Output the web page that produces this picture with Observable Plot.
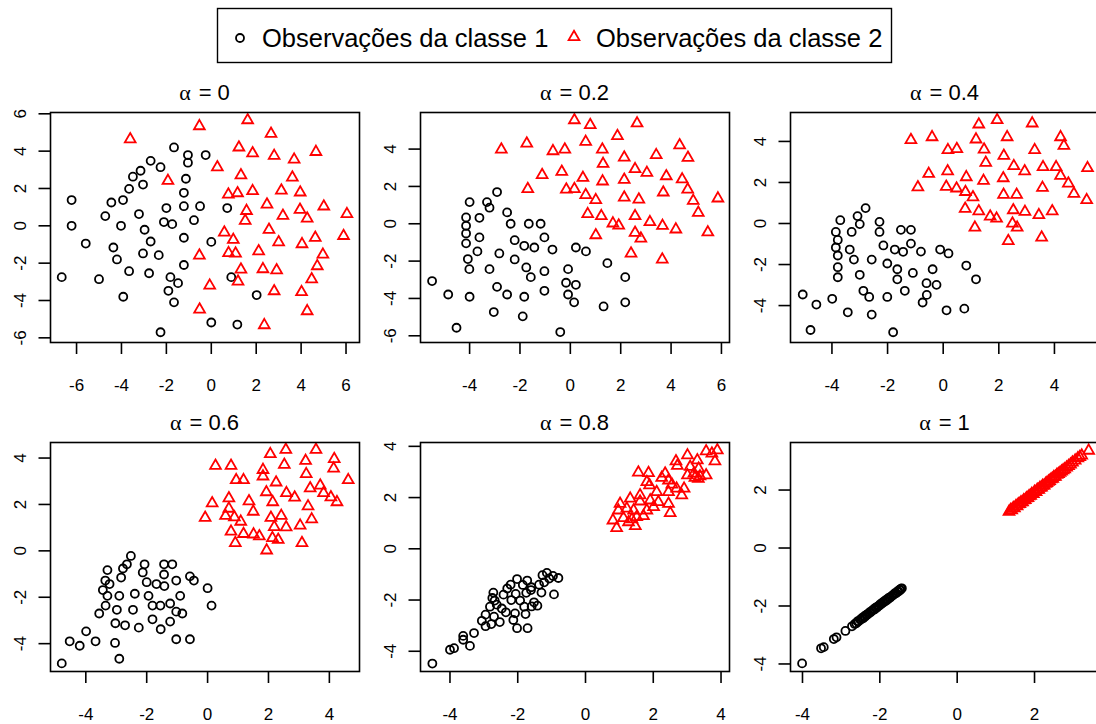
<!DOCTYPE html>
<html>
<head>
<meta charset="utf-8">
<script src="https://cdn.jsdelivr.net/npm/d3@7"></script>
<script src="https://cdn.jsdelivr.net/npm/@observablehq/plot@0.6"></script>
<style>
  html, body { margin: 0; padding: 0; background: #fff; overflow: hidden; width: 1096px; height: 724px; }
  #chart { position: relative; width: 1096px; height: 724px; overflow: hidden; background: #fff; }
  #chart svg { position: absolute; overflow: visible; }
</style>
</head>
<body>
<div id="chart"></div>
<script>
// Panel titles (mixing weight) and legend entries
const alphas = ["0", "0.2", "0.4", "0.6", "0.8", "1"];
const legendLabels = ["Observações da classe 1", "Observações da classe 2"];
const classColors = ["black", "red"];
const classSymbols = ["circle", "triangle"];

// alpha = 0
const a0_c1_x = [-6.66,-6.22,-6.22,-5.59,-5.00,-4.72,-4.45,-4.36,-4.20,-3.93,-4.02,-3.92,-3.66,-3.66,-3.49,-3.15,-3.04,-3.22,-3.04,-2.97,-2.77,-2.70,-2.70,-2.34,-2.26,-2.26,-2.11,-2.00,-1.91,-1.82,-1.74,-1.66,-1.66,-1.48,-1.22,-1.22,-1.22,-1.22,-1.13,-1.04,-1.04,-0.77,-0.50,-0.25,0.00,0.00,0.71,0.89,1.16,2.02];
const a0_c1_y = [-2.75,1.38,0.00,-0.95,-2.86,0.52,1.25,-1.16,-1.80,1.38,0.00,-3.80,-2.43,1.98,2.63,2.95,2.21,0.63,-1.48,-0.21,-2.54,-0.84,3.48,-1.57,3.14,-5.70,0.20,0.95,-3.48,-2.75,0.09,4.20,-4.10,-3.07,1.77,1.05,-0.64,-2.10,2.52,3.38,3.79,0.30,1.05,3.79,-0.86,-5.18,0.95,-2.75,-5.29,-3.71];
const a0_c2_x = [-3.61,-0.53,1.62,2.66,1.23,1.84,2.80,3.69,4.66,0.27,1.32,3.61,-1.93,0.76,1.17,1.84,3.12,3.96,2.48,5.01,1.57,3.95,6.04,1.51,3.19,4.27,2.57,0.58,0.98,3.00,4.04,4.63,5.89,-0.53,0.77,1.08,2.11,4.97,1.32,2.30,2.91,4.72,-0.07,1.19,4.47,2.80,4.02,-0.52,4.27,2.36];
const a0_c2_y = [4.64,5.34,5.66,4.93,4.20,3.89,3.75,3.55,3.96,3.14,2.71,2.59,2.41,1.68,1.75,1.86,1.89,1.79,1.14,1.04,0.80,0.86,0.63,0.27,0.54,0.39,-0.21,-0.36,-0.75,-0.88,-0.98,-0.64,-0.54,-1.59,-1.46,-1.48,-1.36,-1.54,-2.34,-2.32,-2.38,-2.16,-3.20,-2.98,-2.86,-3.50,-3.55,-4.48,-4.57,-5.32];

// alpha = 0.2
const a2_c1_x = [-5.49,-4.85,-4.52,-4.14,-4.14,-4.14,-4.14,-4.07,-4.01,-4.00,-4.00,-3.69,-3.61,-3.61,-3.31,-3.21,-3.21,-2.91,-2.91,-3.04,-2.82,-2.51,-2.51,-2.37,-2.21,-2.21,-1.83,-1.83,-1.89,-1.75,-1.65,-1.57,-1.43,-1.18,-1.03,-1.03,-1.03,-0.71,-0.40,-0.17,-0.09,-0.09,0.15,0.22,0.22,0.62,1.32,1.47,2.18,2.18];
const a2_c1_y = [-3.07,-3.79,-5.57,0.34,-0.11,-0.52,-1.05,-1.89,-2.43,-3.91,1.16,-1.48,0.32,-0.73,1.16,0.86,-2.43,1.70,-3.38,-4.73,-1.59,0.61,-3.79,0.00,-0.88,-1.91,-1.18,-3.91,-4.96,-2.34,0.00,-2.86,-1.27,0.00,-0.73,-2.54,-3.59,-1.38,-5.80,-3.16,-2.43,-3.79,-4.21,-3.27,-1.27,-1.48,-4.43,-2.11,-2.86,-4.21];
const a2_c2_x = [0.16,0.79,2.65,-2.74,-1.73,-0.69,-0.22,0.61,1.87,1.27,2.14,3.41,4.34,4.67,1.30,-1.12,-0.34,0.50,1.28,2.14,2.57,3.04,3.81,4.44,-1.69,-0.16,0.16,0.61,1.01,2.14,2.72,3.69,4.66,4.88,5.86,5.08,0.69,1.23,1.69,1.92,2.57,3.16,3.66,4.19,5.46,2.57,2.80,1.01,2.41,3.65];
const a2_c2_y = [5.55,5.29,5.38,3.98,4.30,3.89,3.98,4.39,4.70,3.98,3.55,3.68,4.21,3.54,3.21,2.61,2.79,2.46,2.27,2.36,2.93,2.73,2.55,2.38,1.86,1.84,1.86,1.54,1.27,1.41,1.30,1.68,1.84,1.23,1.36,0.59,0.52,0.41,0.02,-0.09,0.41,0.09,-0.11,-0.30,-0.46,-0.48,-0.79,-0.61,-1.59,-1.91];

// alpha = 0.4
const a4_c1_x = [-5.05,-4.77,-4.56,-3.99,-3.79,-3.79,-3.79,-3.86,-3.79,-3.86,-3.70,-3.43,-3.36,-3.29,-3.21,-3.08,-3.00,-2.79,-3.00,-2.87,-2.66,-2.57,-2.57,-2.29,-2.29,-2.15,-2.01,-2.01,-1.80,-1.74,-1.65,-1.65,-1.52,-1.44,-1.38,-1.16,-1.16,-1.09,-0.80,-0.74,-0.60,-0.59,-0.38,-0.24,-0.11,0.12,0.19,0.76,0.83,1.18];
const a4_c1_y = [-3.46,-5.19,-3.95,-3.67,-2.62,-2.13,-1.56,-1.17,-0.80,-0.41,0.16,-4.33,-1.27,-0.41,-1.76,0.36,-0.03,0.75,-2.50,-3.28,-3.58,-4.44,-1.76,0.08,-0.41,-1.07,-1.95,-3.58,-5.30,-1.27,-2.23,-2.72,-0.31,-1.38,-3.28,-0.31,-0.98,-2.41,-1.37,-3.85,-2.91,-3.48,-2.23,-2.99,-1.27,-4.23,-1.46,-4.15,-2.05,-2.72];
const a4_c2_x = [1.94,3.20,1.28,-1.16,-0.40,1.18,2.30,4.22,4.34,0.17,0.49,1.47,3.29,2.18,1.53,2.54,2.93,3.59,4.06,5.19,4.22,0.16,-0.52,0.83,1.45,2.16,4.50,-0.91,0.11,0.48,0.80,1.07,3.57,2.17,2.64,4.70,5.16,0.79,1.28,1.69,1.92,2.52,2.94,3.44,3.92,2.49,2.66,1.14,2.34,3.54];
const a4_c2_y = [5.04,4.88,4.83,4.07,4.21,4.10,4.21,4.21,3.79,3.58,3.63,3.61,3.58,3.30,2.96,2.80,2.55,2.75,2.75,2.70,2.33,2.55,2.42,2.26,2.08,2.21,1.95,1.77,1.79,1.71,1.54,1.28,1.74,1.40,1.40,1.45,1.14,0.72,0.60,0.34,0.24,0.65,0.57,0.41,0.60,0.00,-0.20,-0.20,-0.85,-0.68];

// alpha = 0.6
const a6_c1_x = [-4.79,-4.53,-4.20,-3.99,-3.68,-3.56,-3.44,-3.36,-3.29,-3.29,-3.35,-3.22,-3.04,-3.03,-2.98,-2.90,-2.90,-2.84,-2.78,-2.65,-2.71,-2.52,-2.45,-2.39,-2.26,-2.13,-2.07,-2.00,-1.94,-1.81,-1.81,-1.68,-1.55,-1.54,-1.43,-1.43,-1.42,-1.23,-1.23,-1.16,-1.03,-1.03,-1.03,-0.90,-0.83,-0.58,-0.45,-0.58,0.00,0.13];
const a6_c1_y = [-4.85,-3.90,-4.09,-3.47,-3.90,-2.70,-1.69,-1.28,-0.83,-1.94,-2.36,-1.43,-3.97,-3.12,-2.54,-1.94,-4.65,-1.15,-0.76,-0.58,-3.21,-0.22,-2.54,-1.85,-3.31,-0.93,-0.58,-1.35,-1.94,-2.36,-2.95,-1.43,-2.36,-3.38,-0.58,-1.02,-1.52,-2.27,-3.05,-0.58,-1.28,-2.62,-3.81,-1.94,-2.70,-1.10,-1.28,-3.81,-1.61,-2.36];
const a6_c2_x = [2.57,3.56,2.06,3.22,4.16,0.26,0.77,1.82,2.52,4.14,0.94,1.18,1.82,3.24,2.25,4.62,3.70,3.37,3.81,1.93,2.59,2.86,4.05,0.15,0.70,1.36,2.14,4.25,3.30,0.70,1.50,-0.08,0.59,0.88,1.09,2.08,2.42,3.42,0.77,1.18,1.51,1.70,2.19,2.58,3.04,0.91,2.13,2.32,3.10,1.94];
const a6_c2_y = [4.36,4.36,4.17,3.88,3.96,3.67,3.67,3.49,3.71,3.55,3.05,3.05,3.21,3.31,2.95,3.05,2.82,2.70,2.49,2.53,2.49,2.30,2.31,2.05,2.27,2.14,2.10,2.10,1.92,1.82,1.69,1.43,1.51,1.45,1.26,1.43,1.51,1.36,0.83,0.73,0.71,0.63,1.03,1.02,1.09,0.34,0.55,0.48,0.34,0.02];

// alpha = 0.8
const a8_c1_x = [-4.52,-4.00,-3.88,-3.61,-3.61,-3.41,-3.29,-3.06,-2.95,-2.95,-2.78,-2.70,-2.53,-2.82,-2.75,-2.72,-2.68,-2.62,-2.47,-2.35,-2.42,-2.31,-2.21,-2.19,-2.06,-2.02,-2.08,-2.13,-2.02,-1.93,-1.85,-1.81,-1.77,-1.72,-1.71,-1.75,-1.61,-1.60,-1.59,-1.52,-1.42,-1.37,-1.30,-1.27,-1.14,-1.07,-0.96,-0.93,-0.80,-1.22];
const a8_c1_y = [-4.48,-3.94,-3.88,-3.40,-3.55,-3.79,-3.29,-2.81,-2.57,-3.02,-2.94,-2.65,-2.86,-2.26,-1.92,-1.71,-2.02,-2.18,-2.33,-2.48,-1.79,-1.55,-1.40,-2.00,-1.76,-1.18,-2.52,-2.78,-3.10,-2.02,-1.41,-2.26,-2.55,-1.24,-3.10,-1.72,-1.61,-1.50,-2.25,-2.09,-2.22,-1.40,-1.71,-1.03,-0.94,-1.16,-1.06,-1.78,-1.14,-1.31];
const a8_c2_x = [3.56,3.89,3.73,3.82,3.01,3.30,2.67,2.71,3.09,3.34,3.20,3.01,3.38,3.56,3.33,3.23,1.56,1.86,2.35,2.25,2.45,1.81,1.89,2.55,2.69,2.91,2.84,2.45,2.10,1.61,1.32,1.02,1.61,1.91,2.15,2.45,2.01,1.81,2.50,0.97,1.22,1.42,0.81,1.12,1.37,1.51,1.71,1.27,1.47,0.92];
const a8_c2_y = [3.81,3.85,3.72,3.42,3.65,3.46,3.42,3.24,3.20,3.13,2.94,2.87,2.83,2.87,2.74,2.77,2.98,2.96,2.94,2.77,2.67,2.61,2.48,2.51,2.35,2.35,2.09,2.22,2.22,2.09,1.96,1.76,1.85,1.89,1.83,1.76,1.63,1.50,1.40,1.50,1.57,1.50,1.11,1.20,1.15,1.24,1.28,1.04,0.89,0.81];

// alpha = 1
const a10_c1_x = [-4.01,-3.52,-3.45,-3.19,-3.12,-2.89,-2.72,-2.65,-2.61,-2.58,-2.55,-2.51,-2.49,-2.46,-2.43,-2.40,-2.38,-2.35,-2.33,-2.30,-2.27,-2.25,-2.22,-2.19,-2.16,-2.14,-2.11,-2.08,-2.05,-2.02,-1.99,-1.96,-1.93,-1.90,-1.87,-1.84,-1.81,-1.79,-1.76,-1.73,-1.70,-1.66,-1.62,-1.58,-1.55,-1.52,-1.49,-1.47,-1.45,-1.43];
const a10_c1_y = [-3.98,-3.46,-3.42,-3.14,-3.08,-2.86,-2.70,-2.62,-2.60,-2.53,-2.53,-2.47,-2.47,-2.41,-2.42,-2.35,-2.36,-2.31,-2.30,-2.27,-2.22,-2.23,-2.18,-2.16,-2.11,-2.12,-2.06,-2.06,-2.01,-1.99,-1.94,-1.93,-1.88,-1.87,-1.82,-1.82,-1.76,-1.77,-1.71,-1.71,-1.66,-1.63,-1.57,-1.56,-1.50,-1.50,-1.44,-1.45,-1.40,-1.39];
const a10_c2_x = [1.34,1.38,1.41,1.45,1.48,1.52,1.55,1.58,1.62,1.65,1.69,1.72,1.76,1.79,1.83,1.86,1.90,1.93,1.97,2.00,2.04,2.07,2.11,2.14,2.18,2.21,2.25,2.29,2.32,2.36,2.39,2.43,2.47,2.50,2.54,2.58,2.62,2.66,2.70,2.74,2.78,2.83,2.88,2.93,2.98,3.05,3.12,3.17,3.22,3.40];
const a10_c2_y = [1.25,1.31,1.30,1.38,1.37,1.45,1.44,1.51,1.52,1.58,1.58,1.65,1.66,1.72,1.73,1.79,1.80,1.87,1.86,1.94,1.93,2.01,2.01,2.08,2.09,2.15,2.16,2.22,2.24,2.29,2.31,2.37,2.39,2.45,2.46,2.53,2.55,2.60,2.64,2.68,2.72,2.78,2.83,2.88,2.95,3.02,3.10,3.14,3.19,3.36];

// Axis ranges and tick values per panel
const xDomains = [[-7.16, 6.60], [-5.95, 6.32], [-5.49, 5.62], [-5.16, 4.99], [-4.87, 4.25], [-4.31, 3.68]];
const yDomains = [[-6.25, 6.07], [-6.36, 5.96], [-5.80, 5.41], [-5.20, 4.67], [-4.79, 4.15], [-4.26, 3.64]];
const xTicks = [[-6,-4,-2,0,2,4,6], [-4,-2,0,2,4,6], [-4,-2,0,2,4], [-4,-2,0,2,4], [-4,-2,0,2,4], [-4,-2,0,2]];
const yTicks = [[-6,-4,-2,0,2,4,6], [-6,-4,-2,0,2,4], [-4,-2,0,2,4], [-4,-2,0,2,4], [-4,-2,0,2,4], [-4,-2,0,2]];

const series = [
  [a0_c1_x, a0_c1_y, a0_c2_x, a0_c2_y],
  [a2_c1_x, a2_c1_y, a2_c2_x, a2_c2_y],
  [a4_c1_x, a4_c1_y, a4_c2_x, a4_c2_y],
  [a6_c1_x, a6_c1_y, a6_c2_x, a6_c2_y],
  [a8_c1_x, a8_c1_y, a8_c2_x, a8_c2_y],
  [a10_c1_x, a10_c1_y, a10_c2_x, a10_c2_y]
];

const toRows = (xs, ys) => xs.map((x, i) => ({x, y: ys[i]}));

// 2 x 3 grid of panels
const colLeft = [50, 420, 790];
const rowTop = [112, 442];
const rowH = [230, 229];
const boxW = 309;
const M = {top: 40, left: 50, right: 8, bottom: 60};
const sans = "'Liberation Sans', Arial, Helvetica, sans-serif";
const symR = 4.0, symStroke = 1.8;
const chart = document.getElementById("chart");

series.forEach(([c1x, c1y, c2x, c2y], i) => {
  const r = Math.floor(i / 3), c = i % 3;
  const svg = Plot.plot({
    width: M.left + boxW + M.right,
    height: M.top + rowH[r] + M.bottom,
    marginTop: M.top, marginLeft: M.left, marginRight: M.right, marginBottom: M.bottom,
    x: {domain: xDomains[i]},
    y: {domain: yDomains[i]},
    style: {
      fontFamily: sans, fontSize: "17px", background: "transparent", color: "black",
      position: "absolute", left: (colLeft[c] - M.left) + "px", top: (rowTop[r] - M.top) + "px",
      overflow: "visible", maxWidth: "none"
    },
    marks: [
      Plot.dot(toRows(c1x, c1y), {x: "x", y: "y", r: symR, symbol: classSymbols[0], fill: "none", stroke: classColors[0], strokeWidth: symStroke}),
      Plot.dot(toRows(c2x, c2y), {x: "x", y: "y", r: symR, symbol: classSymbols[1], fill: "none", stroke: classColors[1], strokeWidth: symStroke}),
      Plot.frame({stroke: "black", strokeWidth: 1.6}),
      Plot.axisX(xTicks[i], {anchor: "bottom", tickSize: 12, tickPadding: 24, tickFormat: d => String(d),
        label: null, color: "black", strokeWidth: 1.6, fontSize: 17}),
      Plot.axisY(yTicks[i], {anchor: "left", tickSize: 11.5, tickPadding: 13.4, tickRotate: -90, tickFormat: d => String(d),
        label: null, color: "black", strokeWidth: 1.6, fontSize: 17})
    ]
  });
  // panel title: α = value
  const t = d3.select(svg).append("text")
    .attr("x", M.left + boxW / 2)
    .attr("y", M.top - 12)
    .attr("text-anchor", "middle")
    .attr("font-size", 22)
    .attr("fill", "black");
  t.append("tspan").attr("font-family", "'Liberation Serif', 'DejaVu Serif', serif").text("α");
  t.append("tspan").attr("font-family", sans).attr("dx", 8).text("=");
  t.append("tspan").attr("font-family", sans).attr("dx", 6).text(alphas[i]);
  chart.appendChild(svg);
});

// legend box across the top
const leg = d3.select(chart).append("svg")
  .attr("width", 1096).attr("height", 72)
  .style("left", "0px").style("top", "0px");
leg.append("rect")
  .attr("x", 217.5).attr("y", 8.5).attr("width", 674).attr("height", 54)
  .attr("fill", "none").attr("stroke", "black").attr("stroke-width", 1.4);
const legSymX = [240, 574];
const legTextX = [262, 596];
const symMap = {circle: d3.symbolCircle, triangle: d3.symbolTriangle};
legendLabels.forEach((lab, k) => {
  leg.append("path")
    .attr("d", d3.symbol(symMap[classSymbols[k]], Math.PI * symR * symR)())
    .attr("transform", `translate(${legSymX[k]},${k === 0 ? 38 : 37})`)
    .attr("fill", "none").attr("stroke", classColors[k]).attr("stroke-width", symStroke);
  leg.append("text")
    .attr("x", legTextX[k]).attr("y", 47)
    .attr("font-family", sans).attr("font-size", 25.5).attr("fill", "black")
    .text(lab);
});
</script>
</body>
</html>
